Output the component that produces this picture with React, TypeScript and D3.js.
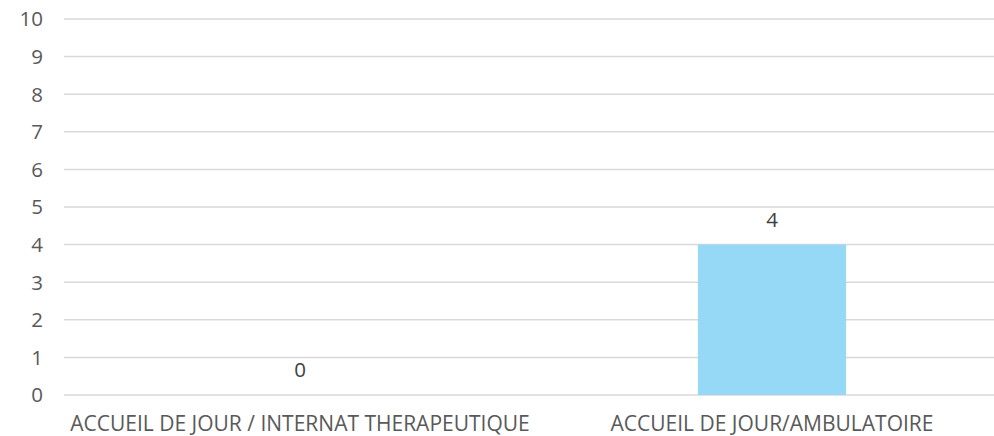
import React from "react";
import * as d3 from "d3";

const categories = ["ACCUEIL DE JOUR / INTERNAT THERAPEUTIQUE", "ACCUEIL DE JOUR/AMBULATOIRE"];
const values = [0, 4];
const yTicks = [0, 1, 2, 3, 4, 5, 6, 7, 8, 9, 10];

const W = 994;
const H = 436;
const FONT = "'Open Sans', 'Liberation Sans', sans-serif";

export default function App() {
  const x = d3.scaleBand<string>().domain(categories).range([64, 1008]).paddingInner(0.686).paddingOuter(0.343);
  const y = d3.scaleLinear().domain([0, 10]).range([395, 19]);
  return (
    <svg width={W} height={H} style={{ position: "absolute", left: 0, top: 0, background: "#fff" }}>
      {yTicks.map((t) => (
        <g key={t}>
          <line x1={64} x2={W} y1={y(t)} y2={y(t)} stroke="#d9d9d9" strokeWidth={1.5} />
          <text x={43} y={y(t)} dy="0.36em" textAnchor="end" fontFamily={FONT} fontSize={20.5} fill="#595959">
            {t}
          </text>
        </g>
      ))}
      {categories.map((c, i) => (
        <g key={c}>
          {values[i] > 0 && (
            <rect x={x(c)!} y={y(values[i])} width={x.bandwidth()} height={y(0) - y(values[i])} fill="#95d9f7" />
          )}
          <text
            x={x(c)! + x.bandwidth() / 2}
            y={y(values[i]) - 18}
            textAnchor="middle"
            fontFamily={FONT}
            fontSize={20.5}
            fill="#404040"
          >
            {values[i]}
          </text>
          <text
            x={x(c)! + x.bandwidth() / 2}
            y={431}
            textAnchor="middle"
            fontFamily={FONT}
            fontSize={21}
            fill="#595959"
          >
            {c}
          </text>
        </g>
      ))}
    </svg>
  );
}
